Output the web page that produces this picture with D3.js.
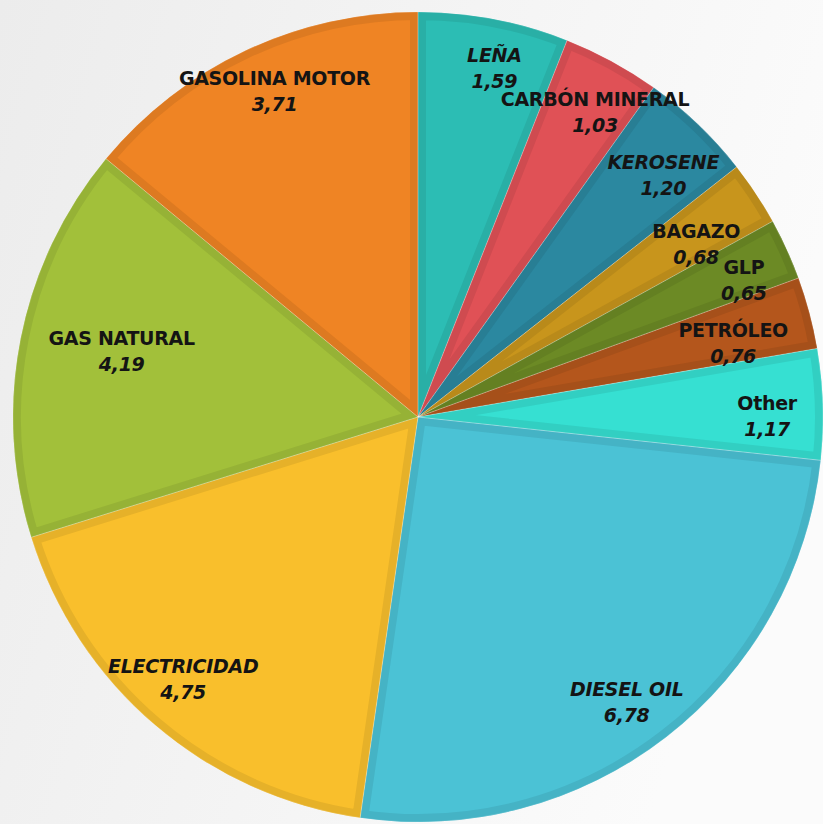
<!DOCTYPE html>
<html>
<head>
<meta charset="utf-8">
<script src="https://cdn.jsdelivr.net/npm/d3@7"></script>
<style>
  html, body { margin: 0; padding: 0; background: #f3f3f3; }
  svg { display: block; }
</style>
</head>
<body>
<svg id="chart" width="823" height="824"></svg>
<script>
// ---- data ----
const categories = ["LEÑA", "CARBÓN MINERAL", "KEROSENE", "BAGAZO", "GLP", "PETRÓLEO", "Other",
                    "DIESEL OIL", "ELECTRICIDAD", "GAS NATURAL", "GASOLINA MOTOR"];
const values = [1.59, 1.03, 1.20, 0.68, 0.65, 0.76, 1.17, 6.78, 4.75, 4.19, 3.71];
const valueLabels = ["1,59", "1,03", "1,20", "0,68", "0,65", "0,76", "1,17", "6,78", "4,75", "4,19", "3,71"];

// ---- styling / layout (kept apart from data) ----
const colors = ["#2cbdb4", "#e05156", "#2b88a0", "#c8951c", "#6c8a25", "#b4561c", "#36e0d2",
                "#4bc2d5", "#f9bf2c", "#a2c03a", "#ef8424"];
const labelRadius = [0.885, 0.872, 0.853, 0.81, 0.874, 0.80, 0.862, 0.87, 0.867, 0.75, 0.882];
const italic = [true, false, true, false, false, false, false, true, true, false, false];

const W = 823, H = 824;
const cx = 418, cy = 417, R = 405;

const svg = d3.select("#chart");

const defs = svg.append("defs");
const bg = defs.append("linearGradient").attr("id", "bg").attr("x1", "0").attr("y1", "0").attr("x2", "1").attr("y2", "0.3");
bg.append("stop").attr("offset", "0").attr("stop-color", "#ececec");
bg.append("stop").attr("offset", "1").attr("stop-color", "#fbfbfb");
svg.append("rect").attr("width", W).attr("height", H).attr("fill", "url(#bg)");

const pie = d3.pie().sort(null).value(d => d.v).startAngle(0).endAngle(2 * Math.PI);
const data = categories.map((c, i) => ({ name: c, v: values[i], lab: valueLabels[i], color: colors[i], i }));
const arcs = pie(data);
const arc = d3.arc().innerRadius(0).outerRadius(R);

const g = svg.append("g").attr("transform", `translate(${cx},${cy})`);

arcs.forEach((a, k) => {
  defs.append("clipPath").attr("id", "clip" + k)
    .append("path").attr("d", arc(a));
});

g.selectAll("path.slice")
  .data(arcs)
  .join("path")
  .attr("class", "slice")
  .attr("d", arc)
  .attr("fill", d => d.data.color)
  .attr("stroke", d => d3.color(d.data.color).darker(0.22))
  .attr("stroke-width", 16)
  .attr("stroke-linejoin", "round")
  .attr("clip-path", (d, k) => `url(#clip${k})`);

// thin light separators
g.selectAll("path.sep")
  .data(arcs)
  .join("path")
  .attr("class", "sep")
  .attr("d", arc)
  .attr("fill", "none")
  .attr("stroke", "rgba(255,255,255,0.2)")
  .attr("stroke-width", 1);

const angOff = 1.5 * Math.PI / 180;
const labels = g.selectAll("g.lab")
  .data(arcs)
  .join("g")
  .attr("class", "lab")
  .attr("transform", d => {
    const a = (d.startAngle + d.endAngle) / 2 + angOff;
    const r = R * labelRadius[d.data.i];
    return `translate(${r * Math.sin(a)},${-r * Math.cos(a)})`;
  });

labels.append("text")
  .attr("text-anchor", "middle")
  .attr("y", -5)
  .attr("font-family", "'DejaVu Sans', sans-serif")
  .attr("font-weight", "bold")
  .attr("font-style", d => italic[d.data.i] ? "italic" : "normal")
  .attr("font-size", 19)
  .attr("letter-spacing", -0.3)
  .attr("fill", "#141414")
  .text(d => d.data.name);

labels.append("text")
  .attr("text-anchor", "middle")
  .attr("y", 21)
  .attr("font-family", "'DejaVu Sans', sans-serif")
  .attr("font-weight", "bold")
  .attr("font-style", "italic")
  .attr("font-size", 19)
  .attr("letter-spacing", -0.3)
  .attr("fill", "#141414")
  .text(d => d.data.lab);
</script>
</body>
</html>
